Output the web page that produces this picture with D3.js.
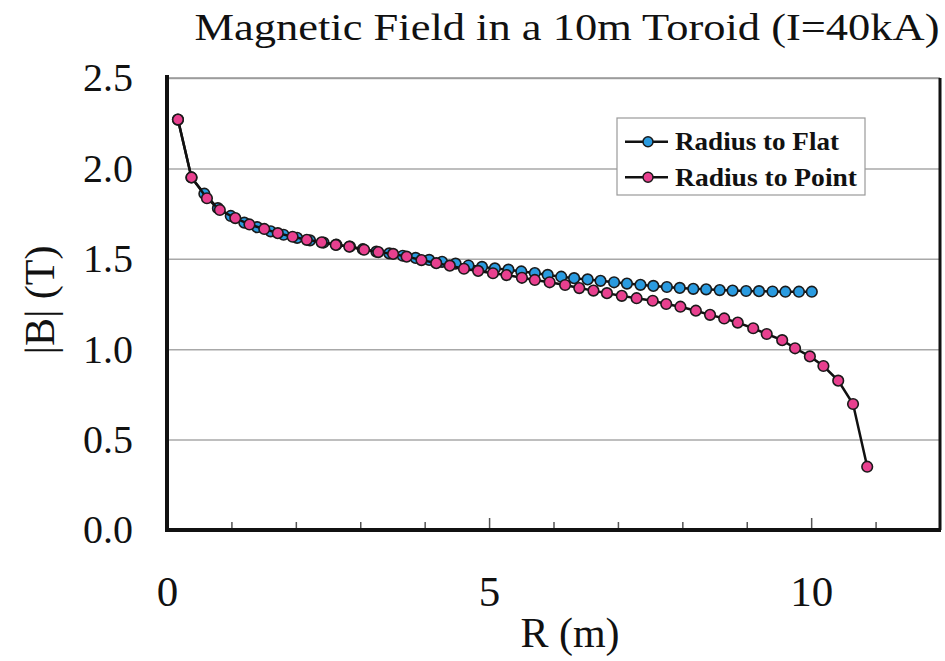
<!DOCTYPE html>
<html>
<head>
<meta charset="utf-8">
<script src="https://cdn.jsdelivr.net/npm/d3@7"></script>
<style>
  html, body { margin: 0; padding: 0; background: #fff; }
  svg { display: block; }
  text { font-family: "Liberation Serif", "Tinos", "Times New Roman", "DejaVu Serif Condensed", serif; fill: #111; }
</style>
</head>
<body>
<svg id="chart" width="945" height="661"></svg>
<script>
// ---- Data ----
const seriesNames = ["Radius to Flat", "Radius to Point"];

const flatR = [0.17,0.38,0.58,0.79,0.99,1.20,1.40,1.61,1.81,2.02,2.22,2.43,2.63,2.84,3.04,3.25,3.45,3.66,3.86,4.07,4.27,4.48,4.68,4.89,5.09,5.30,5.50,5.71,5.91,6.12,6.32,6.53,6.73,6.94,7.14,7.35,7.55,7.76,7.96,8.17,8.37,8.58,8.78,8.99,9.19,9.40,9.60,9.81,10.01];
const flatB = [2.27,1.95,1.86,1.78,1.737,1.70,1.675,1.652,1.633,1.616,1.602,1.590,1.578,1.568,1.553,1.540,1.530,1.517,1.505,1.494,1.483,1.473,1.463,1.455,1.447,1.440,1.430,1.421,1.411,1.401,1.393,1.386,1.378,1.370,1.363,1.356,1.350,1.344,1.339,1.334,1.331,1.327,1.324,1.322,1.321,1.319,1.318,1.318,1.318];

const pointR = [0.17,0.38,0.62,0.82,1.06,1.28,1.51,1.72,1.95,2.17,2.40,2.62,2.83,3.06,3.28,3.51,3.72,3.95,4.18,4.39,4.61,4.83,5.06,5.27,5.51,5.71,5.94,6.18,6.40,6.62,6.83,7.06,7.29,7.54,7.75,7.97,8.21,8.43,8.65,8.86,9.10,9.31,9.55,9.75,9.98,10.19,10.42,10.65,10.87];
const pointB = [2.27,1.95,1.835,1.77,1.725,1.69,1.665,1.642,1.622,1.605,1.591,1.577,1.567,1.55,1.537,1.527,1.512,1.493,1.476,1.462,1.445,1.433,1.42,1.41,1.395,1.383,1.37,1.355,1.338,1.324,1.31,1.295,1.282,1.268,1.25,1.235,1.213,1.19,1.17,1.147,1.116,1.084,1.05,1.005,0.96,0.907,0.826,0.697,0.35];

const xTicks = [0,1,2,3,4,5,6,7,8,9,10,11,12];
const xLabelTicks = [0,5,10];
const yTicks = [0,0.5,1.0,1.5,2.0,2.5];

const titleText = "Magnetic Field in a 10m Toroid (I=40kA)";
const xTitle = "R (m)";
const yTitle = "|B| (T)";

// ---- Layout ----
const FONT = '"Liberation Serif", "Tinos", "Times New Roman", "DejaVu Serif Condensed", serif';
const svg = d3.select("#chart");
const mLeft = 167, mRight = 940, mTop = 78, mBottom = 530;
const x = d3.scaleLinear().domain([0, 12]).range([mLeft, mRight]);
const y = d3.scaleLinear().domain([0, 2.5]).range([mBottom, mTop]);
const colors = ["#2a9be0", "#e8408f"];

// Gridlines
const grid = svg.append("g")
  .attr("transform", `translate(${mLeft},0)`)
  .call(d3.axisLeft(y).tickValues(yTicks.filter(v => v > 0)).tickSize(-(mRight - mLeft)).tickFormat(""));
grid.select(".domain").remove();
grid.selectAll("line").attr("stroke", "#a8a8a8").attr("stroke-width", 1.5);

// Y tick labels
const yAxis = svg.append("g")
  .attr("transform", `translate(${mLeft},0)`)
  .call(d3.axisLeft(y).tickValues(yTicks).tickSize(0).tickPadding(34).tickFormat(d3.format(".1f")));
yAxis.select(".domain").remove();
yAxis.attr("font-family", null);
yAxis.selectAll("text")
  .style("font-family", FONT)
  .style("font-size", "40px")
  .attr("fill", "#111");

// X ticks (inward)
const xAxis = svg.append("g")
  .attr("transform", `translate(0,${mBottom})`)
  .call(d3.axisBottom(x).tickValues(xTicks.slice(1, -1)).tickSize(-8).tickFormat(""));
xAxis.select(".domain").remove();
xAxis.selectAll("line")
  .attr("stroke", "#555").attr("stroke-width", 1.5)
  .attr("y2", d => (d % 5 === 0 ? -12 : -8));

// X tick labels
const xLab = svg.append("g")
  .attr("transform", `translate(0,${mBottom})`)
  .call(d3.axisBottom(x).tickValues(xLabelTicks).tickSize(0).tickPadding(45).tickFormat(d3.format("d")));
xLab.select(".domain").remove();
xLab.attr("font-family", null);
xLab.selectAll("text")
  .style("font-family", FONT)
  .style("font-size", "43px")
  .attr("fill", "#111")
  .attr("dy", "0.71em")
  .attr("y", 45);

// Frame
svg.append("line").attr("x1", mLeft).attr("x2", mRight).attr("y1", mTop).attr("y2", mTop)
  .attr("stroke", "#999").attr("stroke-width", 1.5);
svg.append("line").attr("x1", mRight).attr("x2", mRight).attr("y1", mTop).attr("y2", mBottom)
  .attr("stroke", "#111").attr("stroke-width", 3);
svg.append("line").attr("x1", mLeft).attr("x2", mLeft).attr("y1", mTop - 3).attr("y2", mBottom + 2)
  .attr("stroke", "#111").attr("stroke-width", 4);
svg.append("line").attr("x1", mLeft - 2).attr("x2", mRight + 1).attr("y1", mBottom).attr("y2", mBottom)
  .attr("stroke", "#111").attr("stroke-width", 4);

// Series
const series = [
  { name: seriesNames[0], R: flatR, B: flatB, color: colors[0] },
  { name: seriesNames[1], R: pointR, B: pointB, color: colors[1] }
];
const line = d3.line().x(d => x(d[0])).y(d => y(d[1]));
series.forEach(s => {
  const pts = s.R.map((r, i) => [r, s.B[i]]);
  const g = svg.append("g");
  g.append("path").attr("d", line(pts)).attr("fill", "none")
    .attr("stroke", "#111").attr("stroke-width", 2.5);
  g.selectAll("circle").data(pts).join("circle")
    .attr("cx", d => x(d[0])).attr("cy", d => y(d[1])).attr("r", 5.3)
    .attr("fill", s.color).attr("stroke", "#1a1a1a").attr("stroke-width", 1.6);
});

// Legend
const lg = svg.append("g");
lg.append("rect").attr("x", 617).attr("y", 118).attr("width", 248).attr("height", 77)
  .attr("fill", "#fff").attr("stroke", "#9a9a9a").attr("stroke-width", 1.2);
const legLens = [164, 182];
series.forEach((s, i) => {
  const cy = 141.7 + i * 35.6;
  lg.append("line").attr("x1", 625).attr("x2", 668).attr("y1", cy).attr("y2", cy)
    .attr("stroke", "#111").attr("stroke-width", 2.5);
  lg.append("circle").attr("cx", 648).attr("cy", cy).attr("r", 5)
    .attr("fill", s.color).attr("stroke", "#1a1a1a").attr("stroke-width", 1.5);
  lg.append("text").attr("x", 675).attr("y", cy + 8.5)
    .attr("textLength", legLens[i]).attr("lengthAdjust", "spacingAndGlyphs")
    .style("font-size", "26px").style("font-weight", "bold")
    .text(s.name);
});

// Titles
svg.append("text").attr("x", 567).attr("y", 40).attr("text-anchor", "middle")
  .attr("textLength", 745).attr("lengthAdjust", "spacingAndGlyphs")
  .style("font-size", "38px").text(titleText);
svg.append("text").attr("x", 570).attr("y", 647).attr("text-anchor", "middle")
  .style("font-size", "42px").text(xTitle);
svg.append("text").attr("transform", "translate(54,300) rotate(-90)").attr("text-anchor", "middle")
  .style("font-size", "42px").text(yTitle);
</script>
</body>
</html>
